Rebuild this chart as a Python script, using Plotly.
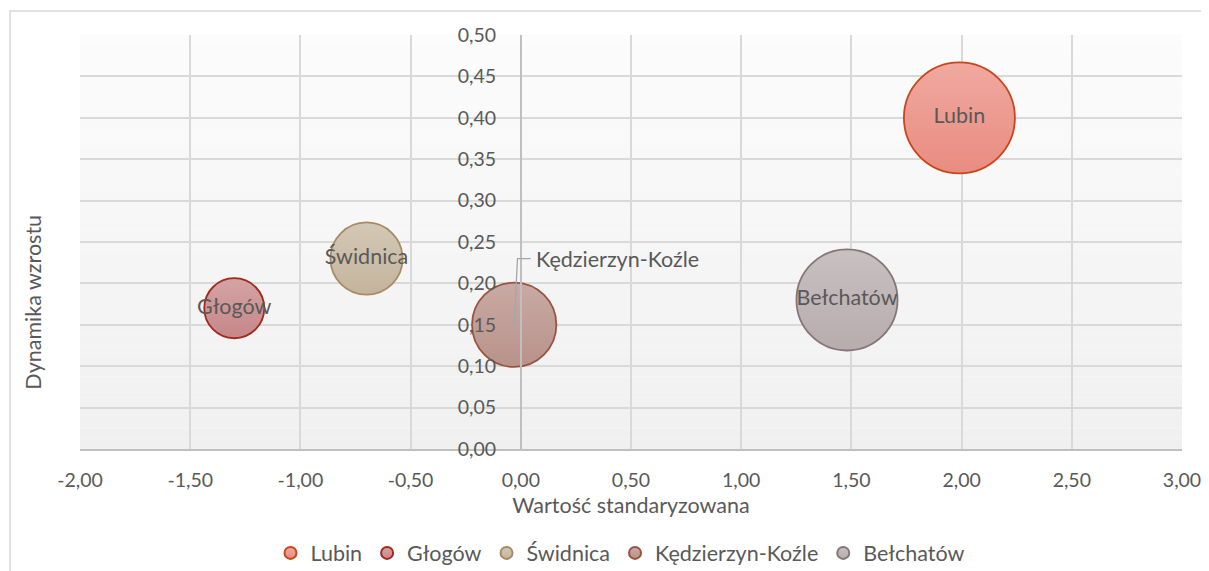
import plotly.graph_objects as go

# ---- data ----
cities = ["Lubin", "Głogów", "Świdnica", "Kędzierzyn-Koźle", "Bełchatów"]
x_std = [1.99, -1.30, -0.70, -0.03, 1.48]
y_dyn = [0.40, 0.17, 0.23, 0.15, 0.18]
bubble = [12.3, 3.6, 5.2, 7.1, 10.2]
fill_top = ["#f0a9a0", "#d5a3a4", "#d3c8b6", "#c9aaa4", "#c8c0c1"]
fill_bot = ["#e98c80", "#c68789", "#c4b49c", "#b8928b", "#b8acad"]
edge = ["#c9451c", "#a12a1c", "#a68c64", "#985440", "#85767a"]
label_pos = ["middle center", "middle center", "middle center", None, "middle center"]

x_ticks = [-2, -1.5, -1, -0.5, 0, 0.5, 1, 1.5, 2, 2.5, 3]
y_ticks = [0, 0.05, 0.1, 0.15, 0.2, 0.25, 0.3, 0.35, 0.4, 0.45, 0.5]
x_ticktext = [f"{v:.2f}".replace(".", ",") for v in x_ticks]
y_ticktext = [f"{v:.2f}".replace(".", ",") for v in y_ticks]

FONT = "Lato"
GREY_TXT = "#595959"
MAX_D = 111
sizeref = 2.0 * max(bubble) / (MAX_D ** 2)

fig = go.Figure()

# gradient background of plot area (bands)
n = 40
for i in range(n):
    t = i / n
    c = int(round(252 - (252 - 240) * (1 - t)))
    fig.add_shape(type="rect", xref="x domain", yref="y domain",
                  x0=0, x1=1, y0=i / n, y1=(i + 1) / n,
                  fillcolor=f"rgb({c},{c},{c})", line_width=0, layer="below")

for i, name in enumerate(cities):
    pos = label_pos[i]
    fig.add_trace(go.Scatter(
        x=[x_std[i]], y=[y_dyn[i]], name=name,
        mode="markers+text" if pos else "markers",
        text=[name] if pos else None,
        textposition=pos,
        textfont=dict(family=FONT, size=21.5, color=GREY_TXT),
        marker=dict(size=[bubble[i]], sizemode="area", sizeref=sizeref,
                    color=fill_top[i], opacity=1,
                    gradient=dict(type="vertical", color=fill_bot[i]),
                    line=dict(color=edge[i], width=1.8)),
        hoverinfo="skip",
    ))

# leader line + label for Kędzierzyn-Koźle
k = 3
fig.add_shape(type="path", xref="x", yref="y",
              path=f"M {x_std[k]},{y_dyn[k]} L {x_std[k]+0.015},{y_dyn[k]+0.08} L {x_std[k]+0.075},{y_dyn[k]+0.08}",
              line=dict(color="#a6a6a6", width=1.3), layer="above")
fig.add_annotation(x=x_std[k] + 0.09, y=y_dyn[k] + 0.08, xref="x", yref="y",
                   text=cities[k], showarrow=False, xanchor="left", yanchor="middle",
                   font=dict(family=FONT, size=21.5, color=GREY_TXT))

# y axis title
fig.add_annotation(x=-0.043, y=0.355, xref="paper", yref="paper",
                   text="Dynamika wzrostu", showarrow=False, textangle=-90,
                   xanchor="center", yanchor="middle",
                   font=dict(family=FONT, size=21.5, color=GREY_TXT))

# outer chart border
fig.add_shape(type="rect", xref="paper", yref="paper",
              x0=-0.0635, x1=1.2, y0=-0.5, y1=1.058,
              line=dict(color="#d9d9d9", width=1.5), fillcolor="rgba(0,0,0,0)")

fig.update_layout(
    width=1201, height=600,
    margin=dict(l=72, r=27, t=27, b=159),
    paper_bgcolor="white", plot_bgcolor="white",
    font=dict(family=FONT, size=19.5, color=GREY_TXT),
    showlegend=True,
    legend=dict(orientation="h", x=0.49, xanchor="center", y=-0.251, yanchor="middle",
                itemsizing="constant", font=dict(family=FONT, size=21.5, color=GREY_TXT),
                traceorder="normal"),
    xaxis=dict(range=[-2, 3], tickvals=x_ticks, ticktext=x_ticktext,
               automargin=False,
               showgrid=True, gridcolor="#d9d9d9", gridwidth=1.5,
               zeroline=False, showline=True, linecolor="#bfbfbf", linewidth=1.5,
               ticks="", ticklabelstandoff=13,
               tickfont=dict(family=FONT, size=19.5, color=GREY_TXT),
               title=dict(text="Wartość standaryzowana", standoff=8,
                          font=dict(family=FONT, size=21.5, color=GREY_TXT))),
    yaxis=dict(range=[0, 0.5], tickvals=y_ticks, ticktext=y_ticktext,
               anchor="free", position=0.4, automargin=False,
               showgrid=True, gridcolor="#d9d9d9", gridwidth=1.5,
               zeroline=False, showline=True, linecolor="#bfbfbf", linewidth=1.5,
               ticks="", ticklabelstandoff=20,
               tickfont=dict(family=FONT, size=19.5, color=GREY_TXT)),
)

fig.write_html("out.html")
